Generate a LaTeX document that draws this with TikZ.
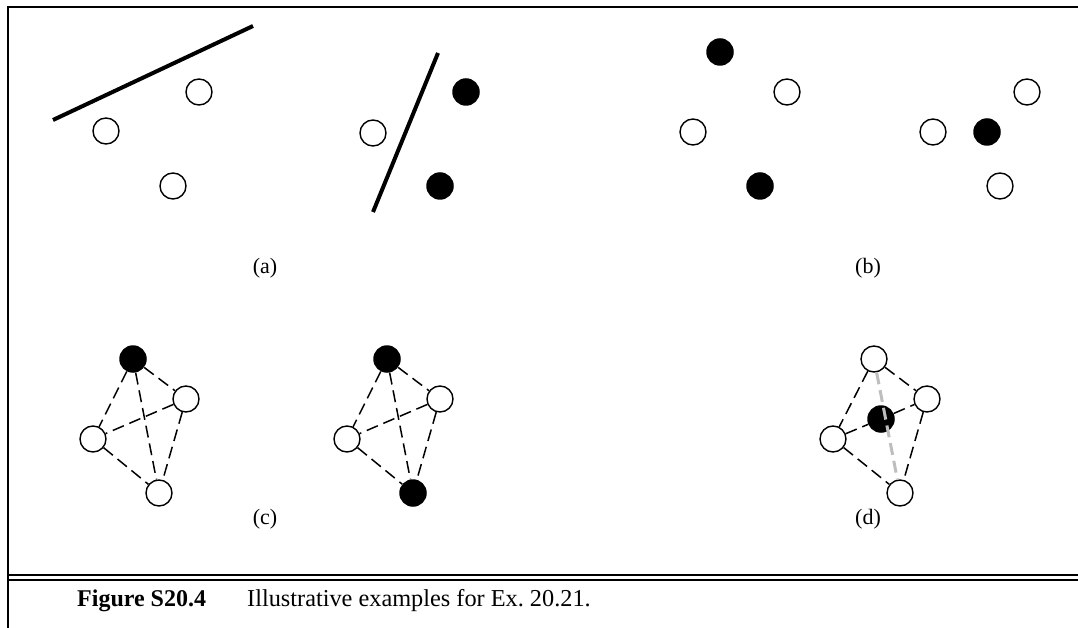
\documentclass[tikz,border=0pt]{standalone}
\usepackage{fontspec}
\setmainfont{Liberation Serif}
\begin{document}
\begin{tikzpicture}[x=1pt,y=-1pt,
  open/.style={circle,draw,line width=1.4pt,fill=white,minimum size=26pt,inner sep=0pt},
  full/.style={circle,fill=black,minimum size=27.5pt,inner sep=0pt},
  sepline/.style={line width=4pt},
  edge/.style={dash pattern=on 12pt off 6pt,line width=1.5pt},
  grayedge/.style={dash pattern=on 12pt off 6pt,line width=3pt,draw={rgb,255:red,190;green,190;blue,190}},
  lab/.style={font=\fontsize{22}{24}\selectfont},
  captext/.style={font=\fontsize{24}{26}\selectfont,anchor=west,inner sep=0pt},
]
\useasboundingbox (0,0) rectangle (1078,628);
% frame
\coordinate (fb) at (8,628);
\coordinate (ftl) at (8,7);
\coordinate (ftr) at (1078,7);
\draw[line width=2.5pt] (fb) -- (ftl) -- (ftr);
\coordinate (d1l) at (8,575); \coordinate (d1r) at (1078,575);
\coordinate (d2l) at (8,579.5); \coordinate (d2r) at (1078,579.5);
\draw[line width=2.5pt] (d1l) -- (d1r);
\draw[line width=2pt] (d2l) -- (d2r);

% panel a1
\coordinate (s1a) at (53,120); \coordinate (s1b) at (253,26);
\draw[sepline] (s1a) -- (s1b);
\node[open] (a11) at (106,131) {};
\node[open] (a12) at (199,92) {};
\node[open] (a13) at (173,186) {};
% panel a2
\coordinate (s2a) at (438,53); \coordinate (s2b) at (373,212);
\draw[sepline] (s2a) -- (s2b);
\node[open] (a21) at (373,133) {};
\node[full] (a22) at (466,92) {};
\node[full] (a23) at (440,186) {};
\node[lab] (la) at (265,268) {(a)};

% panel b1
\node[full] (b11) at (720,52) {};
\node[open] (b12) at (787,92) {};
\node[open] (b13) at (693,132) {};
\node[full] (b14) at (760,186) {};
% panel b2
\node[open] (b21) at (1027,92) {};
\node[open] (b22) at (933,132) {};
\node[full] (b23) at (987,132) {};
\node[open] (b24) at (1000,186) {};
\node[lab] (lb) at (868,268) {(b)};

% panel c1
\node[full] (c1t) at (133,359) {};
\node[open] (c1r) at (186,399) {};
\node[open] (c1l) at (93,439) {};
\node[open] (c1b) at (159,493) {};
\draw[edge] (c1t) -- (c1r);
\draw[edge] (c1t) -- (c1l);
\draw[edge] (c1t) -- (c1b);
\draw[edge] (c1r) -- (c1l);
\draw[edge] (c1r) -- (c1b);
\draw[edge] (c1l) -- (c1b);
% panel c2
\node[full] (c2t) at (387,359) {};
\node[open] (c2r) at (440,399) {};
\node[open] (c2l) at (347,439) {};
\node[full] (c2b) at (413,493) {};
\draw[edge] (c2t) -- (c2r);
\draw[edge] (c2t) -- (c2l);
\draw[edge] (c2t) -- (c2b);
\draw[edge] (c2r) -- (c2l);
\draw[edge] (c2r) -- (c2b);
\draw[edge] (c2l) -- (c2b);
\node[lab] (lc) at (265,519) {(c)};

% panel d
\node[open] (dt) at (874,359) {};
\node[open] (dr) at (927,399) {};
\node[open] (dl) at (833,439) {};
\node[open] (db) at (900,493) {};
\node[full] (dc) at (881,419) {};
\draw[edge] (dt) -- (dr);
\draw[edge] (dt) -- (dl);
\draw[edge] (dl) -- (dc);
\draw[edge] (dc) -- (dr);
\draw[edge] (dl) -- (db);
\draw[edge] (dr) -- (db);
\draw[grayedge] (dt) -- (db);
\node[lab] (ld) at (868,519) {(d)};

% caption
\node[captext] (cap1) at (77,601) {\bfseries Figure S20.4};
\node[captext,font=\fontsize{24.3}{26}\selectfont] (cap2) at (247,601) {Illustrative examples for Ex.\ 20.21.};
\end{tikzpicture}
\end{document}
